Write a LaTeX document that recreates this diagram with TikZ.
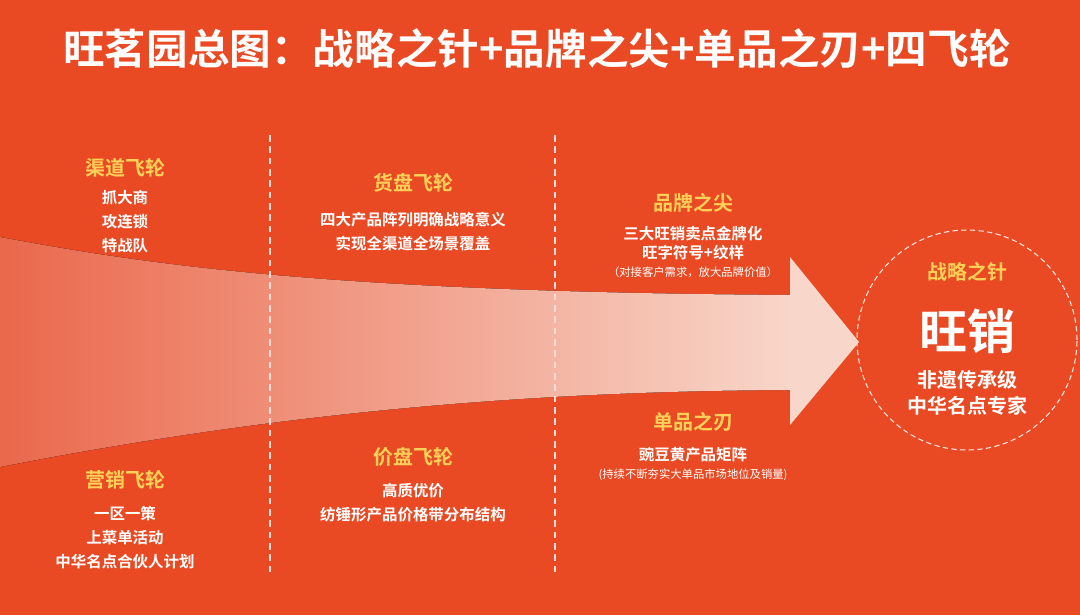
\documentclass[tikz,border=0pt]{standalone}
\usepackage{fontspec}
\newfontfamily\cjk{Noto Sans CJK SC}[BoldFont={Noto Sans CJK SC Bold}]
\usetikzlibrary{positioning}
\definecolor{bgred}{RGB}{233,74,35}
\definecolor{headgold}{RGB}{255,208,88}
\definecolor{arrowlo}{RGB}{234,104,76}
\definecolor{arrowmid}{RGB}{242,180,160}
\definecolor{arrowhi}{RGB}{248,214,201}

\begin{document}
\begin{tikzpicture}[x=0.75pt, y=-0.75pt,
    maintitle/.style={text=white, font=\cjk\bfseries\fontsize{31.2}{36}\selectfont},
    head/.style={text=headgold, font=\cjk\bfseries\fontsize{15}{18}\selectfont, inner sep=0pt},
    item/.style={text=white, font=\cjk\bfseries\fontsize{11.6}{18}\selectfont, align=center, inner sep=0pt},
    note/.style={text=white, font=\cjk\fontsize{8.5}{10}\selectfont, inner sep=0pt},
    divider/.style={draw=white!80!bgred, line width=0.9pt, dash pattern=on 5pt off 3.5pt},
    ring/.style={circle, draw=white!85!bgred, line width=0.8pt, dash pattern=on 4pt off 2.5pt,
                 minimum size=165pt, inner sep=0pt}
  ]
  % Background
  \fill[bgred] (0,0) rectangle (1080,615);
  \useasboundingbox (0,0) rectangle (1080,615);

  % Title
  \node[maintitle] (title) at (537,48) {旺茗园总图：战略之针+品牌之尖+单品之刃+四飞轮};

  % Big arrow
  \fill[left color=arrowlo, middle color=arrowmid, right color=arrowhi]
    (0,237) .. controls (150,265) and (330,292) .. (791,295) -- (791,390)
    .. controls (500,391) and (250,418) .. (0,467) -- cycle;
  \fill[arrowhi] (790,257) -- (859,342) -- (790,425) -- cycle;

  % Dividers
  \draw[divider] (270,135) -- (270,572);
  \draw[divider] (555,135) -- (555,572);

  % Goal circle
  \node[ring] (goal) at (967,340) {};

  % Channel flywheel
  \node[head] (qd) at (125,168) {渠道飞轮};
  \node[item, below=9pt of qd] (qdtxt) {抓大商\\攻连锁\\特战队};

  % Goods flywheel
  \node[head] (hp) at (413,183) {货盘飞轮};
  \node[item, below=14pt of hp] (hptxt) {四大产品阵列明确战略意义\\实现全渠道全场景覆盖};

  % Brand tip
  \node[head] (pp) at (693,203) {品牌之尖};
  \node[item, below=10pt of pp, font=\cjk\bfseries\fontsize{11.6}{14}\selectfont] (pptxt) {三大旺销卖点金牌化\\旺字符号+纹样};
  \node[note, below=4.5pt of pptxt] (ppnote) {（对接客户需求，放大品牌价值）};

  % Single product blade
  \node[head] (dp) at (693,422) {单品之刃};
  \node[item, below=11pt of dp] (dptxt) {豌豆黄产品矩阵};
  \node[note, below=5pt of dptxt] (dpnote) {(持续不断夯实大单品市场地位及销量)};

  % Price flywheel
  \node[head] (jp) at (413,457) {价盘飞轮};
  \node[item, below=12pt of jp] (jptxt) {高质优价\\纺锤形产品价格带分布结构};

  % Marketing flywheel
  \node[head] (yx) at (125,480) {营销飞轮};
  \node[item, below=12.5pt of yx] (yxtxt) {一区一策\\上菜单活动\\中华名点合伙人计划};

  % Strategy needle
  \node[head] (zl) at (967,272) {战略之针};
  \node[text=white, font=\cjk\bfseries\fontsize{36}{40}\selectfont, inner sep=0pt] (wx) at (967,331) {旺销};
  \node[item, font=\cjk\bfseries\fontsize{15}{19.5}\selectfont, below=12pt of wx] (zltxt) {非遗传承级\\中华名点专家};
\end{tikzpicture}
\end{document}
